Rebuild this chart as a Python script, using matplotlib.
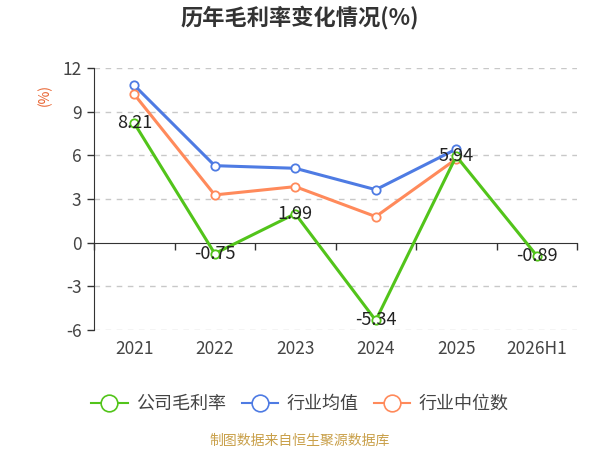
import matplotlib
matplotlib.use("Agg")
import matplotlib.pyplot as plt
from matplotlib.lines import Line2D
import numpy as np

plt.rcParams['font.family'] = ['Noto Sans CJK SC', 'DejaVu Sans']

categories = ["2021", "2022", "2023", "2024", "2025", "2026H1"]
company = [8.21, -0.75, 1.99, -5.34, 5.94, -0.89]
industry_mean = [10.81, 5.29, 5.11, 3.64, 6.43]
industry_median = [10.19, 3.28, 3.85, 1.79, 5.75]
y_ticks = [-6, -3, 0, 3, 6, 9, 12]
series_names = ["公司毛利率", "行业均值", "行业中位数"]

c_green = "#52c41a"
c_blue = "#4e7be3"
c_orange = "#ff8a5b"

fig = plt.figure(figsize=(6, 4.5), dpi=100)
ax = fig.add_axes([94/600, 1-330/450, (577-94)/600, (330-68)/450])

x = np.arange(len(categories))
ax.set_xlim(-0.5, len(categories) - 0.5)
ax.set_ylim(-6, 12)

for vals, col in [(industry_mean, c_blue), (industry_median, c_orange), (company, c_green)]:
    xs = x[:len(vals)]
    ax.plot(xs, vals, color=col, lw=2.2, marker='o', ms=6, mfc='white', mec=col, mew=1.3, zorder=3)

for xi, v in zip(x, company):
    ax.text(xi, v, f"{v:.2f}", ha='center', va='center', fontsize=13, color='#222222', zorder=4)

ax.set_yticks(y_ticks)
ax.set_yticklabels([str(t) for t in y_ticks], fontsize=12.5, color='#444444')
for t in y_ticks:
    if t != 0:
        ax.axhline(t, color='#c8c8c8', lw=1, ls=(0, (4, 4)), zorder=1)
ax.tick_params(axis='y', length=5, color='#333333', width=1, pad=4)

ax.spines['top'].set_visible(False)
ax.spines['right'].set_visible(False)
ax.spines['left'].set_color('#333333')
ax.spines['bottom'].set_color('#333333')
ax.spines['bottom'].set_position(('data', 0))

ax.set_xticks(np.arange(-0.5, len(categories), 1.0))
ax.set_xticklabels([])
ax.tick_params(axis='x', length=5, color='#333333', width=1, direction='out')
for xi, c in zip(x, categories):
    ax.text(xi, -0.072, c, transform=ax.get_xaxis_transform(), ha='center', va='center',
            fontsize=12.5, color='#444444')

fig.text(45/600, 1-95/450, "(%)", rotation=90, ha='center', va='center', fontsize=10, color='#e8602c')
fig.text(0.5, 1-17/450, "历年毛利率变化情况(%)", ha='center', va='center', fontsize=16,
         fontweight='bold', color='#333333')

handles = [Line2D([], [], color=c, lw=1.5, marker='o', ms=12, mfc='white', mec=c, mew=1.2)
           for c in (c_green, c_blue, c_orange)]
fig.legend(handles, series_names, loc='center', bbox_to_anchor=(0.5, 1-404/450), ncol=3,
           frameon=False, fontsize=13, handlelength=2.0, handletextpad=0.45, columnspacing=0.9,
           labelcolor='#444444')

fig.text(0.5, 1-441/450, "制图数据来自恒生聚源数据库", ha='center', va='center', fontsize=10, color='#c9a04a')

fig.savefig("out.png", dpi=100)
